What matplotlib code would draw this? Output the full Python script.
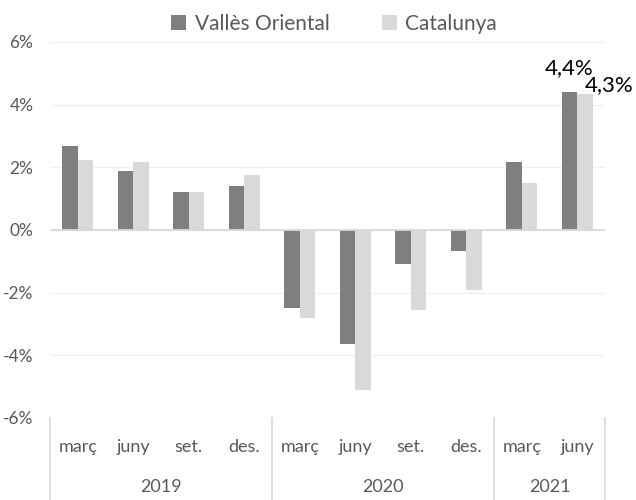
import matplotlib
matplotlib.use('Agg')
import matplotlib.pyplot as plt
import matplotlib.transforms as mtransforms
from matplotlib.ticker import FuncFormatter
import numpy as np

# Data
months = ['març', 'juny', 'set.', 'des.', 'març', 'juny', 'set.', 'des.', 'març', 'juny']
years = ['2019', '2020', '2021']
year_spans = [(0, 3), (4, 7), (8, 9)]
valles = [2.68, 1.88, 1.21, 1.41, -2.49, -3.63, -1.09, -0.67, 2.16, 4.39]
catalunya = [2.24, 2.17, 1.21, 1.74, -2.82, -5.12, -2.54, -1.93, 1.51, 4.33]
series_names = ['Vallès Oriental', 'Catalunya']

# Style
plt.rcParams['font.family'] = ['Lato', 'DejaVu Sans']
dark = '#7f7f7f'
light = '#d9d9d9'
text_grey = '#595959'

fig = plt.figure(figsize=(6.36, 5.0), dpi=100)
ax = fig.add_axes([50/636, 1 - 418/500, 555/636, 376/500])

x = np.arange(len(months))
w = 0.28
b1 = ax.bar(x - w/2, valles, width=w, color=dark, label=series_names[0], zorder=3)
b2 = ax.bar(x + w/2, catalunya, width=w, color=light, label=series_names[1], zorder=3)

ax.set_xlim(-0.5, len(months) - 0.5)
ax.set_ylim(-6, 6)
ax.set_yticks(np.arange(-6, 6.1, 2))
ax.yaxis.set_major_formatter(FuncFormatter(lambda v, p: f'{v:.0f}%'))
ax.tick_params(axis='y', length=0, pad=12, labelsize=12.5, labelcolor=text_grey)
ax.set_xticks([])
for s in ax.spines.values():
    s.set_visible(False)
ax.grid(axis='y', color='#f0f0f0', linewidth=1, zorder=0)
ax.axhline(0, color=light, linewidth=1.3, zorder=4)

# Multi-level category axis
tr = mtransforms.blended_transform_factory(ax.transData, ax.transAxes)
for i, m in enumerate(months):
    ax.text(i, -29/376, m, transform=tr, ha='center', va='center',
            fontsize=13, color=text_grey)
for yr, (a, b) in zip(years, year_spans):
    ax.text((a + b) / 2, -69/376, yr, transform=tr, ha='center', va='center',
            fontsize=13, color=text_grey)
bounds = [-0.5] + [b + 0.5 for a, b in year_spans]
for bx in bounds:
    ax.plot([bx, bx], [0, -82/376], transform=tr, color=light,
            linewidth=1.2, clip_on=False)

# Data labels on the last quarter
ax.annotate('4,4%', (x[-1] - w/2, valles[-1]), xytext=(0, 18),
            textcoords='offset pixels', ha='center', va='baseline',
            fontsize=16, color='black')
ax.annotate('4,3%', (x[-1] + w/2, catalunya[-1]), xytext=(0, 3),
            textcoords='offset pixels', ha='left', va='baseline',
            fontsize=16, color='black')

fig.legend(handles=[b1, b2], loc='upper center', bbox_to_anchor=(0.525, 1.01),
           ncol=2, frameon=False, fontsize=15, handlelength=0.75,
           handleheight=0.75, handletextpad=0.4, columnspacing=2.5,
           labelcolor=text_grey)

fig.savefig('out.png', dpi=100)
